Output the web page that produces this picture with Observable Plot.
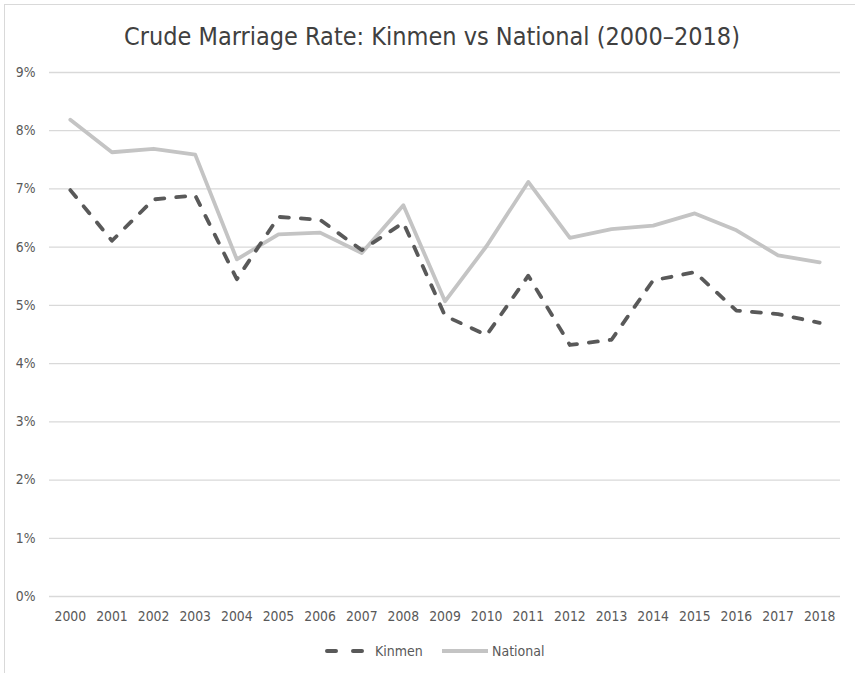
<!DOCTYPE html>
<html>
<head>
<meta charset="utf-8">
<script src="https://cdn.jsdelivr.net/npm/d3@7"></script>
<script src="https://cdn.jsdelivr.net/npm/@observablehq/plot@0.6"></script>
<style>
  body { margin: 0; background: #fff; }
  #wrap { position: relative; width: 855px; height: 673px; overflow: hidden; background: #fff;
          font-family: "DejaVu Sans Condensed", "Roboto", sans-serif; }
  #frame { position: absolute; left: 4px; top: 4px; width: 900px; height: 700px;
           border-left: 1px solid #d9d9d9; border-top: 1px solid #d9d9d9; }
  #title { position: absolute; top: 22px; left: 0; width: 864px; text-align: center;
           font-size: 25px; color: #404040; white-space: nowrap; }
  #chart { position: absolute; left: 0; top: 0; }
  .leg { position: absolute; top: 641px; height: 20px; line-height: 20px; font-size: 14px; color: #595959; white-space: nowrap; }
  .leg svg { display: block; }
</style>
</head>
<body>
<div id="wrap">
  <div id="frame"></div>
  <div id="chart"></div>
  <div id="title">Crude Marriage Rate: Kinmen vs National (2000–2018)</div>
  <div id="legend"></div>
</div>
<script>
const years = ["2000","2001","2002","2003","2004","2005","2006","2007","2008","2009","2010","2011","2012","2013","2014","2015","2016","2017","2018"];
const kinmen = [6.98, 6.11, 6.82, 6.89, 5.45, 6.52, 6.47, 5.95, 6.42, 4.82, 4.49, 5.51, 4.32, 4.41, 5.43, 5.57, 4.91, 4.85, 4.70];
const national = [8.19, 7.63, 7.69, 7.59, 5.79, 6.22, 6.25, 5.90, 6.72, 5.07, 6.02, 7.12, 6.16, 6.31, 6.37, 6.58, 6.29, 5.86, 5.74];
const yTicks = [0, 1, 2, 3, 4, 5, 6, 7, 8, 9];
const seriesNames = ["Kinmen", "National"];

const rows = [];
years.forEach((y, i) => {
  rows.push({year: y, value: kinmen[i], series: seriesNames[0]});
  rows.push({year: y, value: national[i], series: seriesNames[1]});
});

const font = '"DejaVu Sans Condensed", "Roboto", sans-serif';

const chart = Plot.plot({
  width: 855,
  height: 640,
  marginTop: 72,
  marginBottom: 44,
  marginLeft: 49,
  marginRight: 15,
  style: {fontFamily: font, fontSize: "13.8px", color: "#595959", background: "transparent"},
  x: {type: "point", domain: years, padding: 0.5, round: false, label: null},
  y: {domain: [0, 9], label: null},
  marks: [
    Plot.ruleY(yTicks, {stroke: "#d9d9d9", strokeWidth: 1.3}),
    Plot.axisY({ticks: yTicks, tickSize: 0, tickPadding: 14, tickFormat: d => d + "%", label: null, fill: "#595959"}),
    Plot.axisX({tickSize: 0, tickPadding: 15, label: null, fill: "#595959"}),
    Plot.line(rows.filter(d => d.series === "National"), {x: "year", y: "value", stroke: "#c4c4c4", strokeWidth: 3.8, strokeLinejoin: "round", strokeLinecap: "round"}),
    Plot.line(rows.filter(d => d.series === "Kinmen"), {x: "year", y: "value", stroke: "#595959", strokeWidth: 3.8, strokeDasharray: "9,12", strokeLinejoin: "round", strokeLinecap: "round"})
  ]
});
document.getElementById("chart").appendChild(chart);

const legend = document.getElementById("legend");
legend.innerHTML = `
  <div class="leg" style="left:323px;top:646px;height:10px"><svg width="44" height="10"><line x1="4" y1="5" x2="42" y2="5" stroke="#595959" stroke-width="4" stroke-linecap="round" stroke-dasharray="9,17"/></svg></div>
  <div class="leg" style="left:375px">${seriesNames[0]}</div>
  <div class="leg" style="left:442px;top:646px;height:10px"><svg width="48" height="10"><line x1="0" y1="5" x2="46" y2="5" stroke="#c4c4c4" stroke-width="4"/></svg></div>
  <div class="leg" style="left:492px">${seriesNames[1]}</div>`;
</script>
</body>
</html>
